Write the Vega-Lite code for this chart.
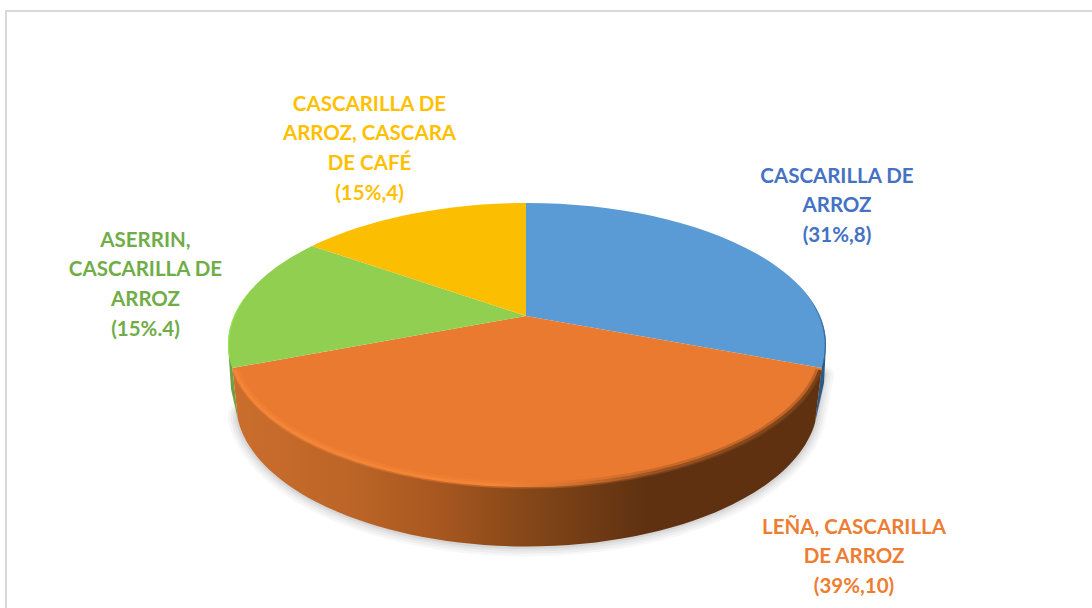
{
"$schema":"https://vega.github.io/schema/vega-lite/v6.json",
"width":1092,"height":608,
"autosize":{"type":"none"},
"padding":0,
"background":"white",
"config":{"view":{"stroke":null}},
"data":{"values":[
{"slice":"CASCARILLA DE ARROZ","pct":31,"count":8,"label":"CASCARILLA DE\nARROZ\n(31%,8)"},
{"slice":"LEÑA, CASCARILLA DE ARROZ","pct":39,"count":10,"label":"LEÑA, CASCARILLA\nDE ARROZ\n(39%,10)"},
{"slice":"ASERRIN, CASCARILLA DE ARROZ","pct":15,"count":4,"label":"ASERRIN,\nCASCARILLA DE\nARROZ\n(15%.4)"},
{"slice":"CASCARILLA DE ARROZ, CASCARA DE CAFÉ","pct":15,"count":4,"label":"CASCARILLA DE\nARROZ, CASCARA\nDE CAFÉ\n(15%,4)"}
]},
"layer":[
{"transform":[{"filter":"datum.pct==31"}],"mark":{"type":"point","filled":false,"size":4,"opacity":1,"stroke":"#d9d9d9","strokeWidth":2,"shape":"M-540,310 L-540,-293 L552,-293"}},
{"transform":[{"filter":"datum.pct==39"}],"mark":{"type":"point","filled":false,"size":4,"opacity":1,"stroke":"#000000","strokeOpacity":0.03,"strokeWidth":20,"strokeCap":"round","shape":"M-308,109 L-308,116 A291,143.7 0 0 0 269,119 L278,71"}},
{"transform":[{"filter":"datum.pct==39"}],"mark":{"type":"point","filled":false,"size":4,"opacity":1,"stroke":"#000000","strokeOpacity":0.035,"strokeWidth":15,"strokeCap":"round","shape":"M-308,109 L-308,116 A291,143.7 0 0 0 269,119 L278,71"}},
{"transform":[{"filter":"datum.pct==39"}],"mark":{"type":"point","filled":false,"size":4,"opacity":1,"stroke":"#000000","strokeOpacity":0.04,"strokeWidth":10,"strokeCap":"round","shape":"M-308,109 L-308,116 A291,143.7 0 0 0 269,119 L278,71"}},
{"transform":[{"filter":"datum.pct==39"}],"mark":{"type":"point","filled":false,"size":4,"opacity":1,"stroke":"#000000","strokeOpacity":0.06,"strokeWidth":5,"strokeCap":"round","shape":"M-308,109 L-308,116 A291,143.7 0 0 0 269,119 L278,71"}},
{"transform":[{"filter":"datum.pct==31"}],"mark":{"type":"point","filled":true,"size":4,"opacity":1,"fill":"#2c5a85","shape":"M280,40 L278,79 L269,119 L275.6,64 Z"}},
{"transform":[{"filter":"indexof(datum.label,'ASERRIN')==0"}],"mark":{"type":"point","filled":true,"size":4,"opacity":1,"fill":"#6f9f42","shape":"M-318,40 L-313.6,64 L-308,116 L-315,85 Z"}},
{"transform":[{"filter":"datum.pct==39"}],"mark":{"type":"point","filled":true,"size":4,"opacity":1,
"fill":{"gradient":"linear","x1":0,"y1":0,"x2":1,"y2":0,"stops":[{"offset":0,"color":"#CB6E2D"},{"offset":0.2,"color":"#BC6527"},{"offset":0.36,"color":"#A6561F"},{"offset":0.5,"color":"#854718"},{"offset":0.7,"color":"#5F3111"},{"offset":1,"color":"#5F3111"}]},
"shape":"M275.6,64 L269,119 A291,143.7 0 0 1 -308,116 L-313.6,64 A299,141 0 0 0 275.6,64 Z"}},
{"mark":{"type":"point","filled":true,"size":4,"opacity":1},
"encoding":{
"shape":{"field":"slice","type":"nominal","legend":null,"scale":{
"domain":["CASCARILLA DE ARROZ","LEÑA, CASCARILLA DE ARROZ","ASERRIN, CASCARILLA DE ARROZ","CASCARILLA DE ARROZ, CASCARA DE CAFÉ"],
"range":["M-20,12 L-20,-101 A299,141 0 0 1 275.6,64 Z","M-20,12 L275.6,64 A299,141 0 0 1 -313.6,64 Z","M-20,12 L-313.6,64 A299,141 0 0 1 -234,-58 Z","M-20,12 L-234,-58 A299,141 0 0 1 -20,-101 Z"]}},
"fill":{"field":"slice","type":"nominal","legend":null,"scale":{
"domain":["CASCARILLA DE ARROZ","LEÑA, CASCARILLA DE ARROZ","ASERRIN, CASCARILLA DE ARROZ","CASCARILLA DE ARROZ, CASCARA DE CAFÉ"],
"range":["#5B9BD5","#EA7A2F","#91CF50","#FBBE00"]}}
}},
{"transform":[{"filter":"datum.pct==39"}],"mark":{"type":"point","filled":false,"size":4,"opacity":1,"strokeWidth":7,"strokeOpacity":0.4,
"stroke":{"gradient":"linear","x1":0,"y1":0,"x2":1,"y2":0,"stops":[{"offset":0,"color":"#F58536"},{"offset":0.45,"color":"#F48436"},{"offset":0.56,"color":"#D9752F"},{"offset":0.72,"color":"#9A5220"},{"offset":1,"color":"#7A4117"}]},
"shape":"M-310.5,66 A296,138.5 0 0 0 273,66"}},
{"transform":[{"filter":"datum.pct==39"}],"mark":{"type":"point","filled":false,"size":4,"opacity":1,"strokeWidth":3,
"stroke":{"gradient":"linear","x1":0,"y1":0,"x2":1,"y2":0,"stops":[{"offset":0,"color":"#F58536"},{"offset":0.45,"color":"#F48436"},{"offset":0.56,"color":"#D9752F"},{"offset":0.72,"color":"#9A5220"},{"offset":1,"color":"#7A4117"}]},
"shape":"M-311.5,66 A297,139 0 0 0 274,66"}},
{"transform":[{"filter":"indexof(datum.label,'ASERRIN')==0"}],"mark":{"type":"point","filled":true,"size":4,"opacity":1,"fill":"#9BE650","shape":"M-313.6,64 A299,141 0 0 1 -291,-18.6 A330,155 0 0 0 -313.6,64 Z"}},
{"transform":[{"filter":"datum.pct==31"}],"mark":{"type":"point","filled":true,"size":4,"opacity":1,
"fill":{"gradient":"linear","x1":0,"y1":0,"x2":0,"y2":1,"stops":[{"offset":0,"color":"#5B9BD5"},{"offset":0.45,"color":"#3F77AB"},{"offset":1,"color":"#264E76"}]},
"shape":"M249,-22.6 A299,141 0 0 1 275.6,64 A330,155 0 0 0 249,-22.6 Z"}},
{"transform":[{"filter":"datum.pct==31"}],"mark":{"type":"text","font":"Lato","fontWeight":"bold","fontSize":20.5,"lineHeight":29.7,"align":"center","baseline":"top","lineBreak":"\n","color":"#4472C4","dx":291,"dy":-137.5},"encoding":{"text":{"field":"label"}}},
{"transform":[{"filter":"datum.pct==39"}],"mark":{"type":"text","font":"Lato","fontWeight":"bold","fontSize":20.5,"lineHeight":29.7,"align":"center","baseline":"top","lineBreak":"\n","color":"#ED7D31","dx":308,"dy":213.5},"encoding":{"text":{"field":"label"}}},
{"transform":[{"filter":"indexof(datum.label,'ASERRIN')==0"}],"mark":{"type":"text","font":"Lato","fontWeight":"bold","fontSize":20.5,"lineHeight":29.7,"align":"center","baseline":"top","lineBreak":"\n","color":"#70AD47","dx":-400.5,"dy":-73.5},"encoding":{"text":{"field":"label"}}},
{"transform":[{"filter":"indexof(datum.label,'DE CAF')>0"}],"mark":{"type":"text","font":"Lato","fontWeight":"bold","fontSize":20.5,"lineHeight":29.7,"align":"center","baseline":"top","lineBreak":"\n","color":"#FFC000","dx":-176.5,"dy":-209.5},"encoding":{"text":{"field":"label"}}}
]
}
